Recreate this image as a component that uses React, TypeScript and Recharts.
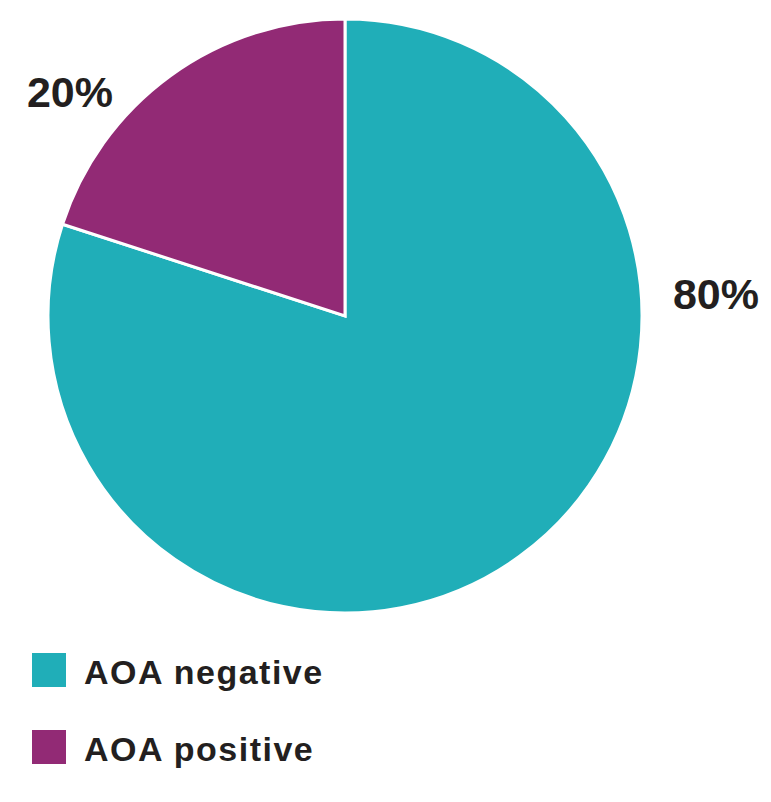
import { PieChart, Pie, Cell, Legend } from "recharts";

// slices, clockwise from 12 o'clock
const groups = ["AOA negative", "AOA positive"];
const shares = [80, 20];
const colors = ["#20aeb8", "#922a75"];

const data = groups.map((name, i) => ({ name, value: shares[i] }));

const FONT = "'Liberation Sans', Arial, Helvetica, sans-serif";
const INK = "#231f20";

// the percentage labels sit outside the pie, not on the slice mid angle
const renderLabel = (props: any) => {
  const { cx, cy, outerRadius, index, value } = props;
  let x = cx + outerRadius + 74;
  let y = cy - 7;
  if (index === 1) {
    x = cx - outerRadius + 22;
    y = cy - outerRadius + 88;
  }
  return (
    <text
      x={x}
      y={y}
      textAnchor="middle"
      fill={INK}
      fontFamily={FONT}
      fontWeight="bold"
      fontSize={43}
    >
      {value}%
    </text>
  );
};

const renderLegend = (props: any) => {
  const { payload } = props;
  return (
    <svg width={330} height={120} style={{ display: "block" }}>
      {(payload || []).map((entry: any, i: number) => (
        <g key={entry.value} transform={`translate(0, ${i * 77})`}>
          <rect x={0} y={0} width={34} height={34} fill={entry.color} />
          <text
            x={52}
            y={31}
            fill={INK}
            fontFamily={FONT}
            fontWeight="bold"
            fontSize={34}
            letterSpacing={1.5}
          >
            {entry.value}
          </text>
        </g>
      ))}
    </svg>
  );
};

export default function App() {
  return (
    <div style={{ width: 763, height: 794, background: "#fff" }}>
      <PieChart width={763} height={794} margin={{ top: 0, right: 0, bottom: 0, left: 0 }}>
        <Pie
          data={data}
          dataKey="value"
          nameKey="name"
          cx={337}
          cy={308}
          outerRadius={297}
          startAngle={90}
          endAngle={-270}
          stroke="#ffffff"
          strokeWidth={3}
          label={renderLabel}
          labelLine={false}
          isAnimationActive={false}
        >
          {data.map((d, i) => (
            <Cell key={d.name} fill={colors[i]} />
          ))}
        </Pie>
        <Legend
          content={renderLegend}
          wrapperStyle={{ position: "absolute", top: 645, left: 24, width: 330, height: 120 }}
        />
      </PieChart>
    </div>
  );
}
